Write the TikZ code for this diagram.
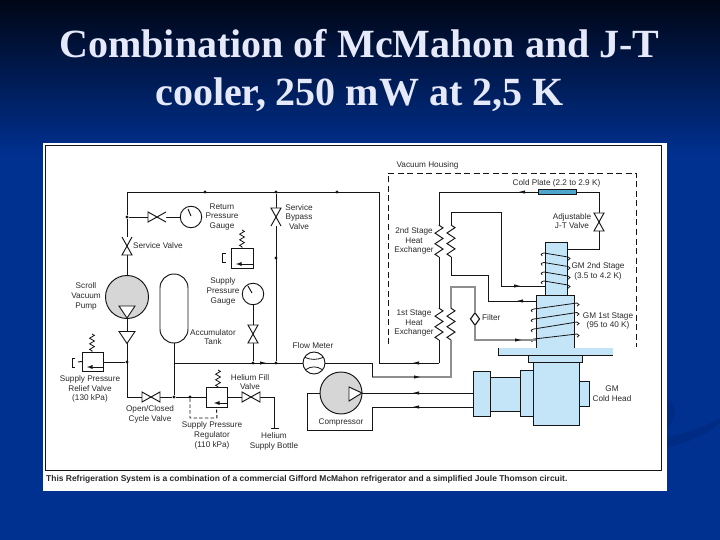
\documentclass[tikz,border=0pt]{standalone}
\usepackage{fontspec}
\setmainfont{Liberation Sans}
\newfontfamily\titlefont{Liberation Serif}
\usetikzlibrary{shapes.geometric,decorations.pathmorphing}
\definecolor{bgblue}{HTML}{003090}
\definecolor{bgtop}{HTML}{000616}
\definecolor{swoosh}{HTML}{002B84}
\definecolor{lineblk}{HTML}{151515}
\definecolor{icecol}{HTML}{C4E4F7}
\definecolor{plateblue}{HTML}{4FA6CC}
\definecolor{pumpgray}{HTML}{D6D6D6}
\definecolor{pipegray}{HTML}{8E8E8E}
\definecolor{titlecol}{HTML}{E6E9FA}
\definecolor{labcol}{HTML}{2A2A2A}
\tikzset{
  pipe/.style={draw=lineblk,line width=0.95pt},
  graypipe/.style={draw=pipegray,line width=1.3pt},
  housing/.style={draw=lineblk,line width=0.95pt,dash pattern=on 6pt off 3.5pt},
  comp/.style={draw=lineblk,line width=0.95pt,fill=icecol,inner sep=0pt,outer sep=0pt},
  whitebox/.style={draw=lineblk,line width=0.95pt,fill=white,inner sep=0pt,outer sep=0pt},
  grayround/.style={circle,draw=lineblk,line width=0.95pt,fill=pumpgray,inner sep=0pt,outer sep=0pt},
  gauge/.style={circle,draw=lineblk,line width=0.95pt,fill=white,inner sep=0pt,outer sep=0pt,minimum size=21.5pt},
  dotn/.style={circle,fill=lineblk,inner sep=0pt,outer sep=0pt,minimum size=3.4pt},
  lab/.style={text=labcol,inner sep=0pt,align=center,font=\fontsize{8.2}{9.8}\selectfont},
  coilz/.style={pipe,decorate,decoration={zigzag,amplitude=4pt,segment length=10.6pt}},
  springz/.style={pipe,line width=0.8pt,decorate,decoration={zigzag,amplitude=2.4pt,segment length=5.6pt}},
  valveopen/.pic={
    \fill[white] (-9,-5)--(9,5)--(9,-5)--(-9,5)--cycle;
    \draw[pipe,line join=miter] (-9,-5)--(9,5)--(9,-5)--(-9,5);},
  valveshut/.pic={
    \fill[white] (-9,-5)--(9,5)--(9,-5)--(-9,5)--cycle;
    \draw[pipe,line join=miter] (-9,-5)--(9,5)--(9,-5)--(-9,5)--cycle;},
  tipmark/.pic={\fill[lineblk] (-3,-1.6)--(3,0)--(-3,1.6)--cycle;},
  checktri/.pic={\filldraw[pipe,fill=white] (-8,-6)--(8,-6)--(0,6)--cycle;},
  bracket/.pic={\draw[pipe] (3,-4.5)--(0,-4.5)--(0,4.5)--(3,4.5);},
}
\newcommand{\coilturn}[4]{%
  \draw[pipe,line width=0.8pt] (#1-1.8,#2+3) .. controls (#1-3.4,#2+2.4) and (#1-3.4,#2+.4) .. (#1,#2) -- (#3,#4)
    .. controls (#3+2.6,#4+.4) and (#3+2.6,#4+2.6) .. (#3,#4+3.2);}
\begin{document}
\begin{tikzpicture}[x=1pt,y=-1pt]
\useasboundingbox (0,0) rectangle (720,540);
% background
\fill[bgblue] (0,0) rectangle (720,540);
\shade[top color=bgtop,bottom color=bgblue] (0,0) rectangle (720,155);
\fill[swoosh] (660,449) .. controls (685,444) and (705,436) .. (720,423) -- (720,419) .. controls (700,428) and (685,434) .. (660,438) -- cycle;
\fill[swoosh] (660,395) .. controls (680,402) and (680,422) .. (660,432) -- cycle;
% title
\node[text=titlecol,inner sep=0pt,align=center,font=\titlefont\bfseries\fontsize{40}{48}\selectfont] (title) at (359.5,70.5) {Combination of McMahon and J-T\\cooler, 250 mW at 2,5 K};
% panel
\node[fill=white,inner sep=0pt,outer sep=0pt,minimum width=624pt,minimum height=348pt] (panel) at (355,317) {};
\node[draw=lineblk,line width=0.9pt,inner sep=0pt,outer sep=0pt,minimum width=616pt,minimum height=325pt] (frame) at (353,307.5) {};
\node[text=labcol,inner sep=0pt,anchor=west,font=\fontsize{8.45}{9}\selectfont\bfseries] (caption) at (46,479.5) {This Refrigeration System is a combination of a commercial Gifford McMahon refrigerator and a simplified Joule Thomson circuit.};
% vacuum housing
\coordinate (vhA) at (388,344);
\coordinate (vhB) at (388,173);
\coordinate (vhC) at (636,173);
\coordinate (vhD) at (636,347);
\draw[housing] (vhA) -- (vhB) -- (vhC) -- (vhD);
% cold head parts
\node[comp,minimum width=22pt,minimum height=53pt] (st2) at (556,268.5) {};
\node[comp,minimum width=38pt,minimum height=53pt] (st1) at (555,321.5) {};
\fill[icecol] (498,348) rectangle (613,355);
\coordinate (plL) at (498,348);
\coordinate (plB) at (498,355);
\coordinate (plR) at (613,355);
\draw[pipe] (plL) -- (plB) -- (plR);
\node[comp,minimum width=54pt,minimum height=7pt] (neck) at (555,358.5) {};
\node[comp,minimum width=10pt,minimum height=25pt] (side) at (584,393.5) {};
\node[comp,minimum width=13pt,minimum height=46pt] (ringB) at (526.5,393) {};
\node[comp,minimum width=30pt,minimum height=34pt] (shaft) at (505,394) {};
\node[comp,minimum width=17pt,minimum height=45pt] (ringA) at (481.5,393.5) {};
\node[comp,minimum width=46pt,minimum height=63pt] (body) at (556,393.5) {};
% coils
\coilturn{544}{253}{568}{257}
\coilturn{544}{262.5}{568}{266.5}
\coilturn{544}{272}{568}{276}
\coilturn{544}{281}{568}{285}
\coilturn{534}{309}{577}{303}
\coilturn{534}{319}{577}{312.5}
\coilturn{534}{329}{577}{322}
\coilturn{534}{339}{577}{334}
% right-hand helium circuit
\coordinate (topL) at (127,192);
\coordinate (corner1) at (379,192);
\coordinate (corner2) at (379,363);
\coordinate (hxL0) at (439,363);
\coordinate (hxL1) at (439,340);
\coordinate (hxL2) at (439,308);
\coordinate (hxL3) at (439,257);
\coordinate (hxL4) at (439,225);
\coordinate (hxLtop) at (439,192);
\coordinate (jtTop) at (599,192);
\coordinate (jtIn) at (599,249);
\coordinate (jtOut) at (567,249);
\node[fill=plateblue,draw=lineblk,line width=0.5pt,inner sep=0pt,outer sep=0pt,minimum width=38pt,minimum height=5pt] (plate) at (557,192) {};
\draw[pipe] (hxL0) -- (hxL1);
\draw[coilz] (hxL1) -- (hxL2);
\draw[pipe] (hxL2) -- (hxL3);
\draw[coilz] (hxL3) -- (hxL4);
\draw[pipe] (hxL4) -- (hxLtop) -- (plate.west);
\draw[pipe] (plate.east) -- (jtTop) -- (jtIn) -- (jtOut);
\coordinate (hxRa) at (451,212);
\coordinate (hxRb) at (451,225);
\coordinate (hxRc) at (451,257);
\coordinate (hxRd) at (451,275);
\coordinate (st2in) at (545,286);
\coordinate (st2mid) at (501,212);
\coordinate (st2low) at (501,286);
\coordinate (st1out) at (536,301);
\coordinate (lnkA) at (488,275);
\coordinate (lnkB) at (488,301);
\draw[pipe] (hxRb) -- (hxRa) -- (st2mid) -- (st2low) -- (st2in);
\draw[coilz] (hxRb) -- (hxRc);
\draw[pipe] (hxRc) -- (hxRd) -- (lnkA) -- (lnkB) -- (st1out);
% first stage gray path
\coordinate (grA) at (451,308);
\coordinate (grB) at (451,287);
\coordinate (grC) at (475,287);
\coordinate (grD) at (475,340);
\coordinate (grE) at (536,340);
\coordinate (grF) at (451,340);
\coordinate (grG) at (451,377);
\coordinate (grH) at (372,377);
\node[diamond,draw=lineblk,line width=1.1pt,fill=white,inner sep=0pt,outer sep=0pt,minimum width=9pt,minimum height=12.5pt] (filt) at (475,319) {};
\draw[graypipe] (grA) -- (grB) -- (grC) -- (filt.north);
\draw[graypipe] (filt.south) -- (grD) -- (grE);
\draw[coilz,draw=lineblk] (grF) -- (grA);
\draw[graypipe] (grF) -- (grG) -- (grH);
% compressor
\node[grayround,minimum size=42pt] (cmp) at (341,393) {};
\coordinate (cmpTip) at (362,393);
\coordinate (fmOut) at (372,363);
\coordinate (retA) at (473,407);
\coordinate (retB) at (372,407);
\coordinate (retC) at (372,430);
\coordinate (retD) at (307,430);
\coordinate (retE) at (307,393);
\draw[pipe] (cmpTip) -- (ringA.west |- cmpTip);
\draw[pipe] (retA) -- (retB) -- (retC) -- (retD) -- (retE) -- (cmp.west);
\filldraw[pipe,fill=white,line join=miter] (349,387) -- (349,401) -- (cmpTip) -- cycle;
\node[circle,draw=lineblk,line width=0.95pt,fill=white,inner sep=0pt,outer sep=0pt,minimum size=22pt] (fm) at (314,363) {};
\draw[pipe,line width=.8pt] (305,357.5) .. controls (311,360) and (317,360) .. (323,357.5);
\draw[pipe,line width=.8pt] (306,369.5) .. controls (311,366) and (317,366) .. (322,369.5);
\draw[pipe] (fm.east) -- (fmOut) -- (grH);
\draw[pipe] (corner2) -- (hxL0);
% left circuit
\node[dotn] (jRet) at (127,217) {};
\node[dotn] (jBy) at (276,192) {};
\node[dotn] (jTop2) at (337,192) {};
\node[dotn] (jTop1) at (205,192) {};
\node[dotn] (jBy2) at (276,258) {};
\node[dotn] (jFlow) at (276,363) {};
\node[dotn] (jSup) at (253,363) {};
\node[dotn] (jRel) at (127,362) {};
\node[dotn] (jTank) at (174,397) {};
\node[dotn] (jReg) at (190,397) {};
\coordinate (jTankUp) at (174,363);
\draw[pipe] (jRet) -- (topL) -- (corner1) -- (corner2);
\draw[pipe] (jBy) -- (jFlow);
\node[gauge] (retG) at (191,217) {};
\draw[pipe] (jRet) -- (retG.west);
\draw[pipe] (188,209) -- (191,216);
\node[grayround,minimum size=43pt] (pump) at (127,297) {};
\draw[pipe] (jRet) -- (pump.north);
\node[gauge] (supG) at (253,294) {};
\draw[pipe] (248,286) -- (252,293);
\draw[pipe] (supG.south) -- (jSup);
\node[whitebox,rounded corners=13.9pt,minimum width=28pt,minimum height=69pt] (tank) at (174,308.5) {};
\draw[pipe] (tank.south) -- (jTank);
\draw[pipe] (jTankUp) -- (fm.west);
\coordinate (pumpOut) at (127,318);
\coordinate (lowL) at (127,397);
\draw[pipe] (pumpOut) -- (lowL) -- (jTank);
% boxes with springs
\node[whitebox,minimum width=21pt,minimum height=19pt] (relief) at (92.5,361.5) {};
\node[whitebox,minimum width=21pt,minimum height=20pt] (reg) at (216.5,397) {};
\node[whitebox,minimum width=22pt,minimum height=20pt] (upper) at (242,258) {};
\draw[pipe] (relief.east |- jRel) -- (jRel);
\draw[pipe] (jTank) -- (reg.west);
\coordinate (spR) at (92,334);
\coordinate (spG) at (218,370);
\coordinate (spU) at (242,230);
\draw[springz] (spR) -- (spR |- relief.north);
\draw[springz] (spG) -- (spG |- reg.north);
\draw[springz] (spU) -- (spU |- upper.north);
\coordinate (arR1) at (103,367);
\coordinate (arR2) at (87,367);
\coordinate (arG1) at (227,403);
\coordinate (arG2) at (214,403);
\coordinate (arU1) at (253,264);
\coordinate (arU2) at (236,264);
\draw[pipe,-latex] (arR1) -- (arR2);
\draw[pipe,-latex] (arG1) -- (arG2);
\draw[pipe,-latex] (arU1) -- (arU2);
\pic at (72,362.5) {bracket};
\coordinate (brR) at (78,362);
\draw[pipe] (brR) -- (relief.west);
\pic at (222.5,258) {bracket};
% regulator dashed sense line
\coordinate (dsA) at (190,418);
\coordinate (dsB) at (217,418);
\draw[pipe,dash pattern=on 3.5pt off 2.2pt] (jReg) -- (dsA) -- (dsB) -- (reg.south);
% helium fill
\coordinate (heA) at (274,397);
\coordinate (heB) at (274,428);
\coordinate (heC) at (271,428);
\coordinate (heD) at (279,428);
\draw[pipe] (reg.east) -- (heA) -- (heB);
\draw[pipe] (heC) -- (heD);
% valves
\pic[rotate=180] at (157,217) {valveopen};
\pic[rotate=-90] at (127,246) {valveopen};
\pic[rotate=90] at (276,217) {valveopen};
\pic[rotate=90] at (253,334) {valveshut};
\pic at (151,397) {valveshut};
\pic at (251,397) {valveshut};
\pic[rotate=90] at (599,222) {valveshut};
\pic at (127,312) {checktri};
\pic at (127,337.5) {checktri};
% direction marks
\pic at (263,363) {tipmark};
\pic[rotate=180] at (522,192) {tipmark};
\pic at (517,286) {tipmark};
\pic[rotate=180] at (520,301) {tipmark};
\pic at (518,340) {tipmark};
\pic[rotate=180] at (416,363) {tipmark};
\pic at (417,377) {tipmark};
\pic[rotate=180] at (416,393) {tipmark};
\pic[rotate=180] at (416,407) {tipmark};
% labels
\node[lab] (lbRet) at (222,217) {Return\\Pressure\\Gauge};
\node[lab] (lbByp) at (299,217) {Service\\Bypass\\Valve};
\node[lab,anchor=west] (lbSvc) at (133,246) {Service Valve};
\node[lab] (lbPump) at (86,296.5) {Scroll\\Vacuum\\Pump};
\node[lab] (lbSup) at (223,291.5) {Supply\\Pressure\\Gauge};
\node[lab] (lbAcc) at (213,337) {Accumulator\\Tank};
\node[lab] (lbFlow) at (313,346) {Flow Meter};
\node[lab] (lbRel) at (90,389) {Supply Pressure\\Relief Valve\\(130 kPa)};
\node[lab] (lbCyc) at (150,414) {Open/Closed\\Cycle Valve};
\node[lab] (lbFill) at (250,382) {Helium Fill\\Valve};
\node[lab] (lbReg) at (212,435.5) {Supply Pressure\\Regulator\\(110 kPa)};
\node[lab] (lbBot) at (274,441.5) {Helium\\Supply Bottle};
\node[lab] (lbCmp) at (341,422) {Compressor};
\node[lab] (lbVac) at (427.5,165) {Vacuum Housing};
\node[lab] (lbCold) at (556.5,183) {Cold Plate (2.2 to 2.9 K)};
\node[lab] (lbJT) at (572,221) {Adjustable\\J-T Valve};
\node[lab] (lbHX2) at (414,241) {2nd Stage\\Heat\\Exchanger};
\node[lab] (lbHX1) at (414,323) {1st Stage\\Heat\\Exchanger};
\node[lab] (lbG2) at (598,271.5) {GM 2nd Stage\\(3.5 to 4.2 K)};
\node[lab] (lbG1) at (608,321) {GM 1st Stage\\(95 to 40 K)};
\node[lab,anchor=west] (lbFilt) at (482,318) {Filter};
\node[lab] (lbHead) at (612,394) {GM\\Cold Head};
\end{tikzpicture}
\end{document}
